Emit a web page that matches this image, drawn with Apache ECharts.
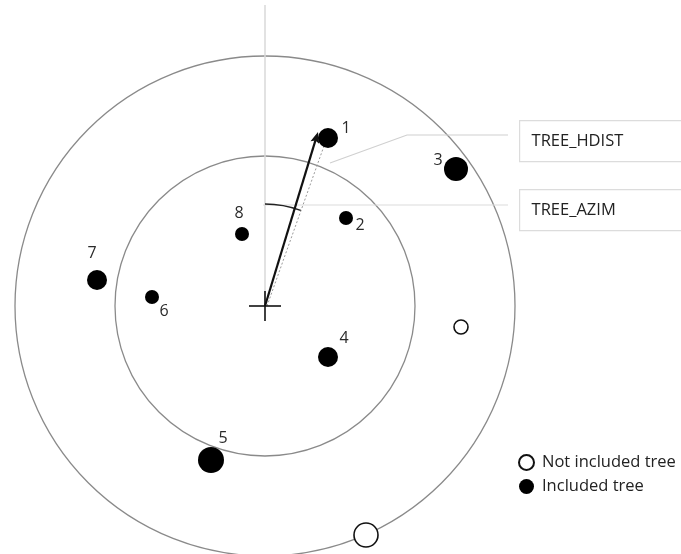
<!DOCTYPE html>
<html><head><meta charset="utf-8">
<script src="https://cdn.jsdelivr.net/npm/echarts@6/dist/echarts.min.js"></script>
<style>html,body{margin:0;padding:0;background:#fff}#c{width:681px;height:554px}</style>
</head><body><div id="c"></div>
<script>
// Plot units: plot centre at (0,0)
const treeIds   = ['1','2','3','4','5','6','7','8'];
const treeX     = [2.52, 3.24, 7.64, 2.52, -2.16, -4.52, -6.72, -0.92];
const treeY     = [6.72, 3.52, 5.48, -2.04, -6.16, 0.36, 1.04, 2.88];
const treeDiam  = [20, 14, 24, 20, 26, 14, 20, 14];
const otherX    = [7.84, 4.04];
const otherY    = [-0.84, -9.16];
const otherDiam = [14, 24];
const circleRadii = [6, 10];
const arrowTip  = [2.12, 6.96];
const azimArcR  = 4.08;
const azimArcDeg = 20.5;
const boxTexts  = ['TREE_HDIST', 'TREE_AZIM'];
const legendNames = ['Not included tree', 'Included tree'];

// label offsets in px (layout only)
const labelOffsets = [[18,-10],[14,7],[-18,-9],[16,-19],[12,-22],[12,14],[-5,-27],[-3,-21]];
const FONT = 'Open Sans';

const chart = echarts.init(document.getElementById('c'));
const inc = treeX.map((x,i)=>({
  value:[x,treeY[i]], symbolSize:treeDiam[i],
  label:{show:true, formatter:treeIds[i], position:'inside', offset:labelOffsets[i], color:'#2a2a2a', fontSize:16, fontFamily:FONT}
}));
const notInc = otherX.map((x,i)=>({value:[x,otherY[i]], symbolSize:otherDiam[i]}));

function geom(params, api){
  const c = api.coord([0,0]);
  const unit = api.size([1,0])[0];
  const children = [];
  circleRadii.forEach(r=>children.push({type:'circle', shape:{cx:c[0],cy:c[1],r:r*unit}, style:{fill:'none',stroke:'#8a8a8a',lineWidth:1.3}}));
  const top = api.coord([0,12.04]);
  children.push({type:'line', shape:{x1:c[0],y1:top[1],x2:c[0],y2:c[1]}, style:{stroke:'#d8d8d8',lineWidth:1.5}});
  const p1 = api.coord([2.6,5.72]), p2 = api.coord([5.68,6.84]), p3 = api.coord([9.72,6.84]);
  children.push({type:'polyline', shape:{points:[p1,p2,p3]}, style:{fill:'none',stroke:'#d0d0d0',lineWidth:1.2}});
  const q1 = api.coord([-0.08,4.04]), q2 = api.coord([9.72,4.04]);
  children.push({type:'line', shape:{x1:q1[0],y1:q1[1],x2:q2[0],y2:q2[1]}, style:{stroke:'#dcdcdc',lineWidth:1.2}});
  const t1 = api.coord([treeX[0],treeY[0]]);
  children.push({type:'line', shape:{x1:c[0]+2,y1:c[1],x2:t1[0]-4,y2:t1[1]+8}, style:{stroke:'#9a9a9a',lineWidth:1,lineDash:[2,2]}});
  children.push({type:'arc', shape:{cx:c[0],cy:c[1],r:azimArcR*unit,startAngle:-Math.PI/2,endAngle:-Math.PI/2+azimArcDeg*Math.PI/180}, style:{fill:'none',stroke:'#222',lineWidth:1.3}});
  const tip = api.coord(arrowTip);
  const ang = Math.atan2(tip[1]-c[1], tip[0]-c[0]);
  const L=11, W=4.5;
  const bx = tip[0]-L*Math.cos(ang), by = tip[1]-L*Math.sin(ang);
  children.push({type:'line', shape:{x1:c[0],y1:c[1],x2:bx+3*Math.cos(ang),y2:by+3*Math.sin(ang)}, style:{stroke:'#111',lineWidth:2.2}});
  children.push({type:'polygon', shape:{points:[tip,[bx-W*Math.sin(ang),by+W*Math.cos(ang)],[bx+2*Math.cos(ang),by+2*Math.sin(ang)],[bx+W*Math.sin(ang),by-W*Math.cos(ang)]]}, style:{fill:'#111'}});
  children.push({type:'line', shape:{x1:c[0]-16,y1:c[1],x2:c[0]+16,y2:c[1]}, style:{stroke:'#111',lineWidth:1.6}});
  children.push({type:'line', shape:{x1:c[0],y1:c[1]-15,x2:c[0],y2:c[1]+15}, style:{stroke:'#111',lineWidth:1.6}});
  return {type:'group', children};
}

chart.setOption({
  animation:false,
  backgroundColor:'#fff',
  grid:{left:0,right:0,top:0,bottom:0},
  xAxis:{type:'value',min:-10.6,max:16.64,show:false},
  yAxis:{type:'value',min:-9.92,max:12.24,show:false},
  legend:{
    orient:'vertical', left:518, top:454, padding:0, itemWidth:15, itemHeight:15, itemGap:7,
    data:legendNames, textStyle:{fontFamily:FONT,fontSize:16.5,color:'#222',padding:[0,0,0,3]}
  },
  graphic:boxTexts.map((t,i)=>({
    type:'group', left:519, top:120+i*69,
    children:[
      {type:'rect', shape:{x:0,y:0,width:170,height:41}, style:{fill:'#fff',stroke:'#dcdcdc',lineWidth:1.2}},
      {type:'text', x:12, y:20.5, style:{text:t, fill:'#222', font:'16.5px "'+FONT+'"', verticalAlign:'middle'}}
    ]
  })),
  series:[
    {type:'custom', renderItem:geom, data:[[0,0]], silent:true, z:1},
    {type:'scatter', name:legendNames[0], symbol:'circle', data:notInc, z:3,
     itemStyle:{color:'#fff',borderColor:'#111',borderWidth:1.6,opacity:1}},
    {type:'scatter', name:legendNames[1], symbol:'circle', data:inc, z:3,
     itemStyle:{color:'#000',opacity:1}}
  ]
});
</script></body></html>
